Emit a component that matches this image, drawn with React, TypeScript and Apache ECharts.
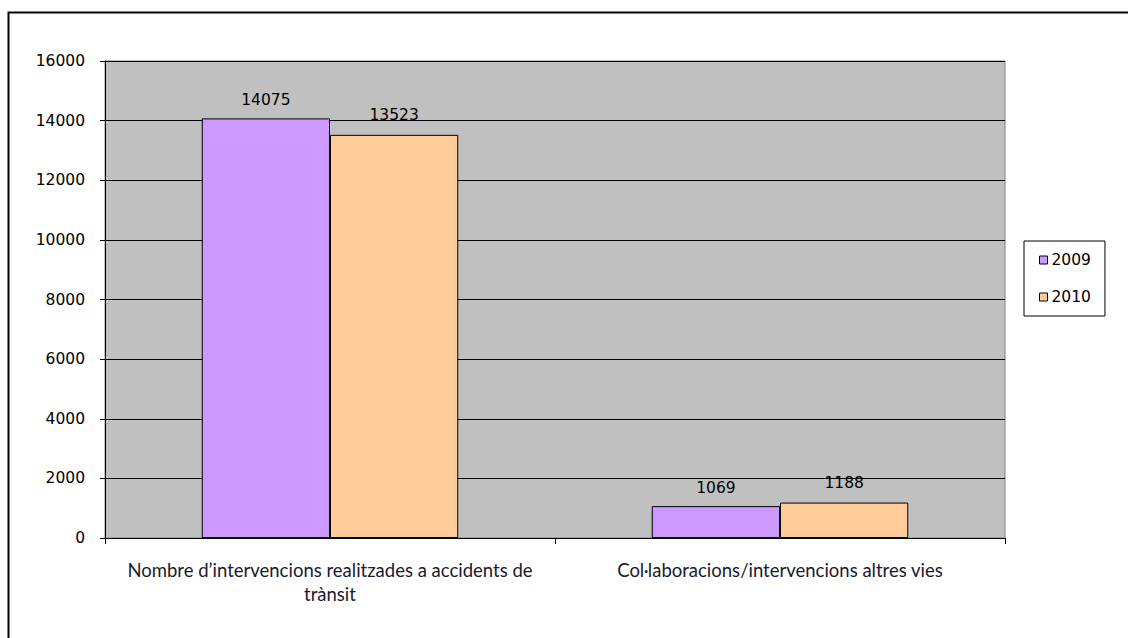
import React, { useEffect, useRef } from "react";
import * as echarts from "echarts";

const categories = [
  "Nombre d’intervencions realitzades a accidents de\ntrànsit",
  "Col·laboracions/intervencions altres vies",
];
const seriesNames = ["2009", "2010"];
const values2009 = [14075, 1069];
const values2010 = [13523, 1188];
const yTicks = { min: 0, max: 16000, interval: 2000 };

export default function App() {
  const ref = useRef<HTMLDivElement>(null);
  useEffect(() => {
    if (!ref.current) return;
    const chart = echarts.init(ref.current, undefined, { renderer: "svg" });
    const tickFont = { fontFamily: "DejaVu Sans", fontSize: 15.5, color: "#000" };
    chart.setOption({
      animation: false,
      backgroundColor: "#fff",
      graphic: [
        {
          type: "rect",
          shape: { x: 8.5, y: 12.5, width: 1140, height: 660 },
          style: { fill: "none", stroke: "#000", lineWidth: 2 },
          silent: true,
        },
      ],
      grid: {
        left: 105,
        top: 61,
        right: 123,
        bottom: 100,
        show: true,
        backgroundColor: "#C0C0C0",
        borderColor: "#808080",
        borderWidth: 1,
      },
      legend: {
        orient: "vertical",
        left: 1024,
        top: 241,
        width: 81,
        padding: [11, 14, 11, 15],
        itemWidth: 8,
        itemHeight: 8,
        itemGap: 21,
        borderColor: "#000",
        borderWidth: 1,
        backgroundColor: "#fff",
        icon: "rect",
        textStyle: { ...tickFont, padding: [0, 0, 0, -1] },
        itemStyle: { borderColor: "#000", borderWidth: 1 },
        data: seriesNames,
      },
      xAxis: {
        type: "category",
        data: categories,
        axisLine: { lineStyle: { color: "#000", width: 1 } },
        axisTick: { show: true, length: 6, lineStyle: { color: "#000" } },
        axisLabel: {
          fontFamily: "Lato",
          fontSize: 18.5,
          color: "#1a1a2e",
          margin: 20,
          lineHeight: 24,
          interval: 0,
        },
      },
      yAxis: {
        type: "value",
        ...yTicks,
        axisLine: { show: true, lineStyle: { color: "#000", width: 1 } },
        axisTick: { show: true, length: 5, lineStyle: { color: "#000" } },
        axisLabel: { ...tickFont, margin: 20, formatter: (v: number) => String(v) },
        splitLine: { show: true, lineStyle: { color: "#000", width: 1 } },
      },
      series: [
        {
          name: seriesNames[0],
          type: "bar",
          data: values2009,
          barGap: "0%",
          barCategoryGap: "43%",
          itemStyle: { color: "#CC99FF", borderColor: "#000", borderWidth: 1 },
          label: { show: true, position: "top", distance: 10, ...tickFont },
        },
        {
          name: seriesNames[1],
          type: "bar",
          data: values2010,
          barGap: "0%",
          barCategoryGap: "43%",
          itemStyle: { color: "#FFCC99", borderColor: "#000", borderWidth: 1 },
          label: { show: true, position: "top", distance: 12, ...tickFont },
        },
      ],
    });
    return () => chart.dispose();
  }, []);
  return (
    <div
      ref={ref}
      style={{ position: "fixed", left: 0, top: 0, width: 1128, height: 638 }}
    />
  );
}
